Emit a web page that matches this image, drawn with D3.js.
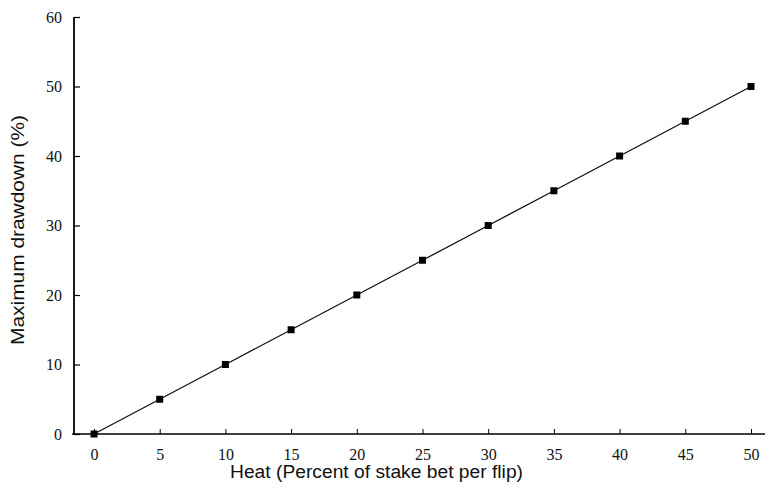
<!DOCTYPE html>
<html>
<head>
    <meta charset="utf-8">
    <script src="https://d3js.org/d3.v7.min.js"></script>
    <style>
        body { margin: 0; background: white; }
        svg { display: block; }
    </style>
</head>
<body>
<svg width="769" height="491"></svg>
<script>
    // values
    let heat = [0, 5, 10, 15, 20, 25, 30, 35, 40, 45, 50]
    let drawdown = [0, 5, 10, 15, 20, 25, 30, 35, 40, 45, 50]
    let xTicks = [0, 5, 10, 15, 20, 25, 30, 35, 40, 45, 50]
    let yTicks = [0, 10, 20, 30, 40, 50, 60]

    let svg = d3.select("svg")

    let x = d3.scaleLinear().domain([0, 50]).range([94, 751])
    let y = d3.scaleLinear().domain([0, 60]).range([434, 17])

    let tickFont = "'Liberation Serif', 'Times New Roman', serif"
    let titleFont = "'Liberation Sans', Arial, sans-serif"

    // x axis: ticks point up, into the plot
    let xAxis = svg.append("g")
        .attr("transform", "translate(0,434)")
        .call(d3.axisBottom(x).tickValues(xTicks).tickSize(-5).tickPadding(15))
    xAxis.select(".domain").attr("d", "M72,0H765").attr("stroke-width", 1.6)
    xAxis.selectAll(".tick line").attr("stroke-width", 1)
    xAxis.selectAll(".tick text")
        .attr("font-family", tickFont).attr("font-size", 16).attr("fill", "#111")

    // y axis: ticks point right
    let yAxis = svg.append("g")
        .attr("transform", "translate(74,0)")
        .call(d3.axisLeft(y).tickValues(yTicks).tickSize(-6).tickPadding(12))
    yAxis.select(".domain").attr("d", "M0,17V435").attr("stroke-width", 1.8)
    yAxis.selectAll(".tick line").attr("stroke-width", 1.2)
    yAxis.selectAll(".tick text")
        .attr("font-family", tickFont).attr("font-size", 16).attr("fill", "#111")

    let pts = heat.map((h, i) => [h, drawdown[i]])

    let line = d3.line().x(d => x(d[0])).y(d => y(d[1]))

    svg.append("path")
        .datum(pts)
        .attr("d", line)
        .attr("fill", "none")
        .attr("stroke", "#111")
        .attr("stroke-width", 1.3)

    svg.append("g")
        .selectAll("rect")
        .data(pts)
        .join("rect")
        .attr("x", d => x(d[0]) - 3.5)
        .attr("y", d => y(d[1]) - 3.5)
        .attr("width", 7)
        .attr("height", 7)
        .attr("fill", "#000")

    svg.append("text")
        .text("Heat (Percent of stake bet per flip)")
        .attr("x", 230)
        .attr("y", 478)
        .attr("textLength", 293)
        .attr("lengthAdjust", "spacingAndGlyphs")
        .attr("font-family", titleFont)
        .attr("font-size", 18)
        .attr("fill", "#111")

    svg.append("text")
        .text("Maximum drawdown (%)")
        .attr("transform", "translate(24,345) rotate(-90)")
        .attr("textLength", 230)
        .attr("lengthAdjust", "spacingAndGlyphs")
        .attr("font-family", titleFont)
        .attr("font-size", 18)
        .attr("fill", "#111")
</script>
</body>
</html>
